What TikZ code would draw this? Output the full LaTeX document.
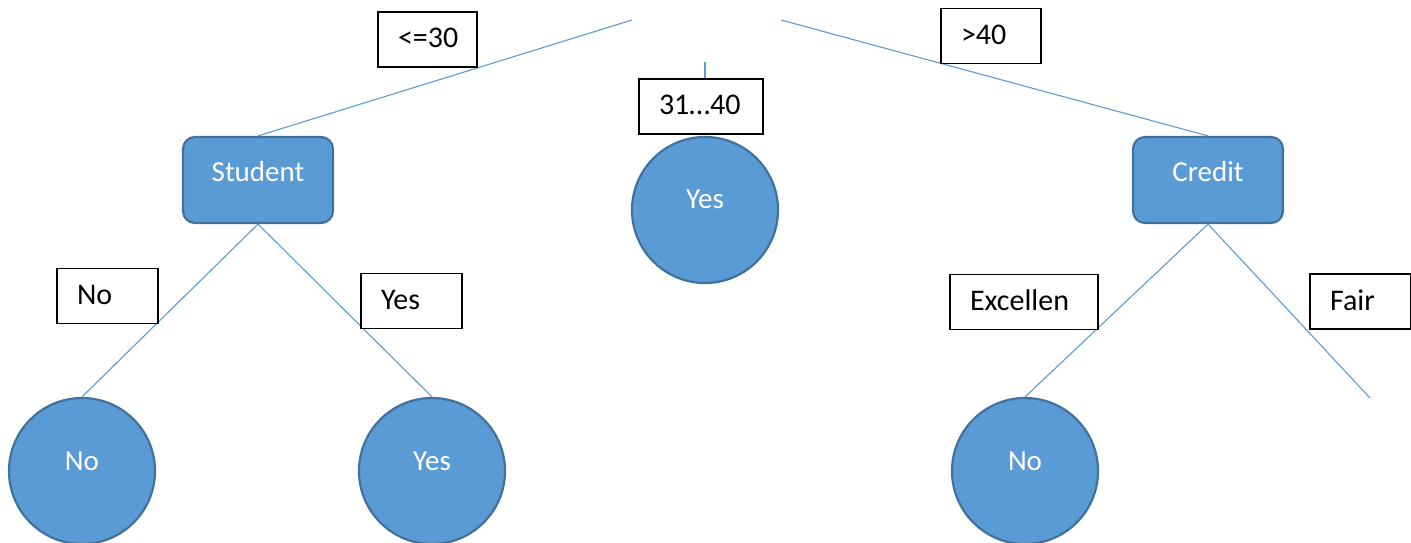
\documentclass[tikz,border=0pt]{standalone}
\usepackage{fontspec}
\setmainfont{Carlito}
\definecolor{nodeblue}{HTML}{5B9BD5}
\definecolor{nodeedge}{HTML}{41719C}
\tikzset{
  edge/.style={draw=nodeblue, line width=1.1bp},
  testnode/.style={rectangle, rounded corners=12bp, fill=nodeblue, draw=nodeedge,
    line width=2.2bp, minimum width=150bp, minimum height=86bp, text=white,
    text height=18bp, text depth=14bp},
  leafnode/.style={circle, fill=nodeblue, draw=nodeedge, line width=2.2bp,
    minimum size=146bp, inner sep=0pt, text=white, text height=18bp, text depth=20bp},
  branchbox/.style={rectangle, draw=black, fill=white, line width=1.6bp,
    minimum height=55bp, inner xsep=20bp, align=left,
    font=\fontsize{30bp}{36bp}\selectfont, text height=19bp, text depth=2bp}
}
\begin{document}
\begin{tikzpicture}[x=1bp, y=-1bp, font=\fontsize{29bp}{34bp}\selectfont]
  \useasboundingbox (0,0) rectangle (1411,543);
  % free ends of the top branches
  \coordinate (rootl) at (632,20);
  \coordinate (rootr) at (781,20);
  \coordinate (rootm) at (705,62);
  \coordinate (fairend) at (1370,398);
  % inner nodes and leaves
  \node[testnode] (stud) at (258,180) {Student};
  \node[testnode] (cred) at (1208,180) {Credit};
  \node[leafnode] (yesmid) at (705,210) {Yes};
  \node[leafnode] (noleft) at (82,471) {No};
  \node[leafnode] (yesleft) at (432,471) {Yes};
  \node[leafnode] (noright) at (1025,471) {No};
  % branches
  \draw[edge] (rootl) -- (stud.north);
  \draw[edge] (rootr) -- (cred.north);
  \draw[edge] (rootm) -- (705,79);
  \draw[edge] (stud.south) -- (noleft.north);
  \draw[edge] (stud.south) -- (yesleft.north);
  \draw[edge] (cred.south) -- (noright.north);
  \draw[edge] (cred.south) -- (fairend);
  % branch labels
  \node[branchbox, text width=59bp] (lle30) at (427.5,39.5) {<=30};
  \node[branchbox, text width=84bp] (l3140) at (701,106.5) {31…40};
  \node[branchbox, text width=60bp] (lgt40) at (991,36) {>40};
  \node[branchbox, text width=61bp] (lno) at (107.5,296) {No};
  \node[branchbox, text width=61bp] (lyes) at (411.5,301) {Yes};
  \node[branchbox, text width=108bp] (lexc) at (1024,302) {Excellen};
  \node[branchbox, text width=61bp] (lfair) at (1360.5,301.5) {Fair};
\end{tikzpicture}
\end{document}
